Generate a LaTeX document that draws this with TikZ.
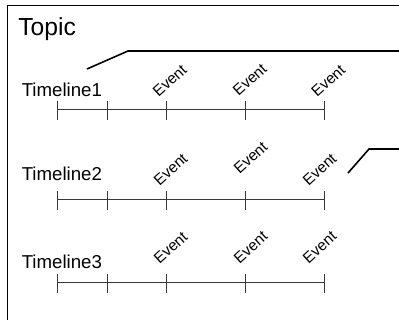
\documentclass[tikz,border=0pt]{standalone}
\usepackage{fontspec}
\setmainfont{Liberation Sans}

\tikzset{
  event/.style={rotate=42, anchor=base west, inner sep=0pt, font=\fontsize{11.5}{13}\selectfont},
  tlabel/.style={anchor=base west, inner sep=0pt, font=\fontsize{14}{16}\selectfont},
  tline/.style={color=black!78, line width=0.75pt},
  callout/.style={color=black, line width=1.2pt},
}

\begin{document}
\begin{tikzpicture}[x=0.75pt, y=-0.75pt]

  \useasboundingbox (0,0) rectangle (399,320);
  \clip (0,0) rectangle (399,320);

  % frame, runs off the right and bottom
  \draw[line width=0.8pt] (7.5,5.8) rectangle (430,340);
  \node[anchor=base west, inner sep=0pt, font=\fontsize{18.5}{20}\selectfont] (topic) at (18,36) {Topic};

  % callouts
  \coordinate (c1a) at (87,69);
  \coordinate (c1b) at (128,51);
  \coordinate (c1c) at (410,51);
  \draw[callout] (c1a) -- (c1b) -- (c1c);

  \coordinate (c2a) at (348,173);
  \coordinate (c2b) at (369,149);
  \coordinate (c2c) at (410,149);
  \draw[callout] (c2a) -- (c2b) -- (c2c);

  % timeline 1
  \node[tlabel] (tl1) at (21.5,96.7) {Timeline1};
  \draw[tline] (57,110) -- (324,110);
  \draw[tline] (57,101.5) -- (57,120.5) (107,101.5) -- (107,120.5) (166,101.5) -- (166,120.5)
               (245,101.5) -- (245,120.5) (324,101.5) -- (324,120.5);
  \node[event] (e11) at (158.5,98) {Event};
  \node[event] (e12) at (238.5,97) {Event};
  \node[event] (e13) at (317,98) {Event};

  % timeline 2
  \node[tlabel] (tl2) at (21.5,180.7) {Timeline2};
  \draw[tline] (57,199.3) -- (324,199.3);
  \draw[tline] (57,190.8) -- (57,209.8) (107,190.8) -- (107,209.8) (166,190.8) -- (166,209.8)
               (245,190.8) -- (245,209.8) (324,190.8) -- (324,209.8);
  \node[event] (e21) at (159.3,186.7) {Event};
  \node[event] (e22) at (239.3,175) {Event};
  \node[event] (e23) at (308.3,186.7) {Event};

  % timeline 3
  \node[tlabel] (tl3) at (21.5,268.3) {Timeline3};
  \draw[tline] (57,282.7) -- (324,282.7);
  \draw[tline] (57,274.2) -- (57,293.2) (107,274.2) -- (107,293.2) (166,274.2) -- (166,293.2)
               (245,274.2) -- (245,293.2) (324,274.2) -- (324,293.2);
  \node[event] (e31) at (159.3,265) {Event};
  \node[event] (e32) at (239.3,264.3) {Event};
  \node[event] (e33) at (308.3,264.3) {Event};

\end{tikzpicture}
\end{document}
